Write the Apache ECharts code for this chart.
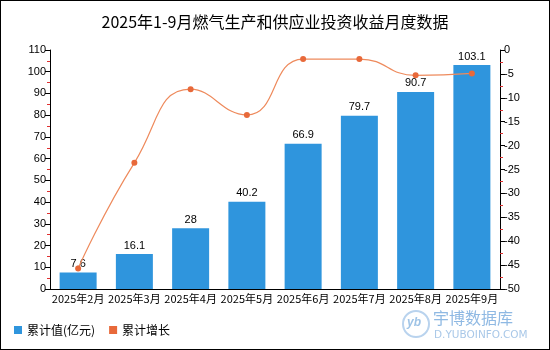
<!DOCTYPE html>
<html><head><meta charset="utf-8">
<script src="https://cdn.jsdelivr.net/npm/echarts@6/dist/echarts.min.js"></script>
<style>html,body{margin:0;padding:0;background:#fff}#c{width:550px;height:350px;box-sizing:border-box;border:1px solid #000}</style>
</head><body><div id="c"></div>
<script>
var categories = ['2025年2月','2025年3月','2025年4月','2025年5月','2025年6月','2025年7月','2025年8月','2025年9月'];
var cumValue = [7.6, 16.1, 28, 40.2, 66.9, 79.7, 90.7, 103.1];
var cumGrowth = [-45.7, -23.6, -8.2, -13.6, -1.9, -1.9, -5.3, -4.9];
var chart = echarts.init(document.getElementById('c'));
chart.setOption({
  animation: false,
  title: {text: '2025年1-9月燃气生产和供应业投资收益月度数据', left: 'center', top: 8,
    textStyle: {fontSize: 16, fontWeight: 'normal', color: '#000', fontFamily: 'Noto Sans CJK SC'}},
  grid: {left: 49, right: 49, top: 49, bottom: 60},
  legend: {left: 8, bottom: 8, itemWidth: 8, itemHeight: 8, itemGap: 14, icon: 'rect',
    textStyle: {fontSize: 12, color: '#000', fontFamily: 'Noto Sans CJK SC'},
    data: ['累计值(亿元)', '累计增长']},
  xAxis: {type: 'category', data: categories,
    axisLine: {lineStyle: {color: '#000'}}, axisTick: {alignWithLabel: true, lineStyle: {color: '#000'}},
    axisLabel: {fontSize: 11, color: '#000', margin: 4, interval: 0, fontFamily: 'Noto Sans CJK SC'}},
  yAxis: [
    {type: 'value', min: 0, max: 110, interval: 10, splitLine: {show: false},
      axisLine: {show: true, lineStyle: {color: '#000'}}, axisTick: {show: true, lineStyle: {color: '#000'}},
      minorTick: {show: true, splitNumber: 2, length: 3, lineStyle: {color: '#e03030'}},
      axisLabel: {fontSize: 11, color: '#000', margin: 4}},
    {type: 'value', min: -50, max: 0, interval: 5, splitLine: {show: false},
      axisLine: {show: true, lineStyle: {color: '#000'}}, axisTick: {show: true, lineStyle: {color: '#000'}},
      minorTick: {show: true, splitNumber: 2, length: 3, lineStyle: {color: '#e03030'}},
      axisLabel: {fontSize: 11, color: '#000', margin: 4}}
  ],
  series: [
    {name: '累计值(亿元)', type: 'bar', data: cumValue, barWidth: 37,
      itemStyle: {color: '#2f95dd'},
      label: {show: true, position: 'top', fontSize: 11, color: '#000', distance: 3}},
    {name: '累计增长', type: 'line', yAxisIndex: 1, data: cumGrowth, smooth: true,
      symbol: 'circle', symbolSize: 6,
      itemStyle: {color: '#e8693a'}, lineStyle: {color: '#ee8a5c', width: 1.2}}
  ],
  graphic: [
    {type: 'circle', shape: {cx: 415, cy: 323, r: 13}, style: {fill: 'none', stroke: '#b9d3ee', lineWidth: 2}},
    {type: 'text', left: 406, top: 316, style: {text: 'yb', fill: '#9ec3e6', font: 'italic bold 12px sans-serif'}},
    {type: 'text', left: 432, top: 309, style: {text: '宇博数据库', fill: '#8fb9e3', font: '16px "Noto Sans CJK SC"'}},
    {type: 'text', left: 433, top: 329, style: {text: 'D.YUBOINFO.COM', fill: '#a9c8e8', font: '10.5px "DejaVu Sans"'}}
  ]
});
</script></body></html>
